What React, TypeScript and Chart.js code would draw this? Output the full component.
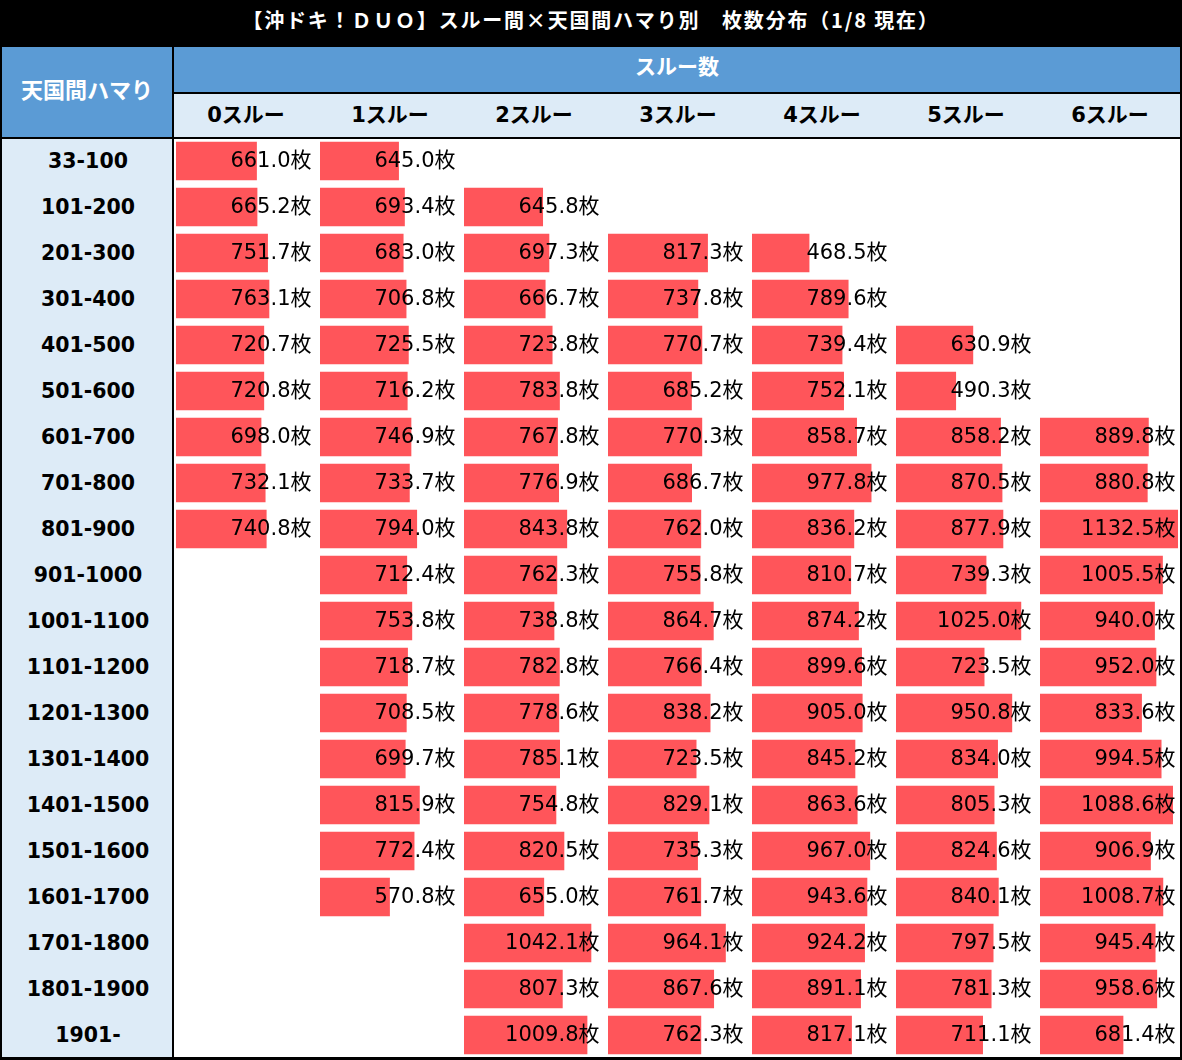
import React, { useEffect, useRef } from "react";
import { Chart, registerables } from "chart.js";

Chart.register(...registerables);

const title = "【沖ドキ！ＤＵＯ】スルー間×天国間ハマり別　枚数分布（1/8 現在）";
const rowHeader = "天国間ハマり";
const groupHeader = "スルー数";
const columnLabels = ["0スルー", "1スルー", "2スルー", "3スルー", "4スルー", "5スルー", "6スルー"];
const rowLabels = [
  "33-100", "101-200", "201-300", "301-400", "401-500", "501-600", "601-700",
  "701-800", "801-900", "901-1000", "1001-1100", "1101-1200", "1201-1300",
  "1301-1400", "1401-1500", "1501-1600", "1601-1700", "1701-1800", "1801-1900", "1901-",
];

const _ = null;
const thru0 = [661.0, 665.2, 751.7, 763.1, 720.7, 720.8, 698.0, 732.1, 740.8, _, _, _, _, _, _, _, _, _, _, _];
const thru1 = [645.0, 693.4, 683.0, 706.8, 725.5, 716.2, 746.9, 733.7, 794.0, 712.4, 753.8, 718.7, 708.5, 699.7, 815.9, 772.4, 570.8, _, _, _];
const thru2 = [_, 645.8, 697.3, 666.7, 723.8, 783.8, 767.8, 776.9, 843.8, 762.3, 738.8, 782.8, 778.6, 785.1, 754.8, 820.5, 655.0, 1042.1, 807.3, 1009.8];
const thru3 = [_, _, 817.3, 737.8, 770.7, 685.2, 770.3, 686.7, 762.0, 755.8, 864.7, 766.4, 838.2, 723.5, 829.1, 735.3, 761.7, 964.1, 867.6, 762.3];
const thru4 = [_, _, 468.5, 789.6, 739.4, 752.1, 858.7, 977.8, 836.2, 810.7, 874.2, 899.6, 905.0, 845.2, 863.6, 967.0, 943.6, 924.2, 891.1, 817.1];
const thru5 = [_, _, _, _, 630.9, 490.3, 858.2, 870.5, 877.9, 739.3, 1025.0, 723.5, 950.8, 834.0, 805.3, 824.6, 840.1, 797.5, 781.3, 711.1];
const thru6 = [_, _, _, _, _, _, 889.8, 880.8, 1132.5, 1005.5, 940.0, 952.0, 833.6, 994.5, 1088.6, 906.9, 1008.7, 945.4, 958.6, 681.4];

const columns: (number | null)[][] = [thru0, thru1, thru2, thru3, thru4, thru5, thru6];

// one scale for every data bar, like an excel data bar rule over the whole range
const maxValue = Math.max(...columns.flat().filter((v): v is number => v !== null));

const BLUE = "#5b9bd5";
const LIGHT = "#ddebf7";
const RED = "#ff555a";
const COL_W = 144;
const ROW_H = 46;
const LATIN_JP = "'DejaVu Sans', 'Noto Sans CJK JP', sans-serif";
const JP = "'Noto Sans CJK JP', sans-serif";

const ColumnChart: React.FC<{ values: (number | null)[] }> = ({ values }) => {
  const chartRef = useRef<HTMLCanvasElement | null>(null);

  useEffect(() => {
    if (!chartRef.current) return;

    const valueLabels = {
      id: "valueLabels",
      afterDatasetsDraw(chart: Chart) {
        const { ctx } = chart;
        const meta = chart.getDatasetMeta(0);
        ctx.save();
        ctx.font = `21px ${LATIN_JP}`;
        ctx.fillStyle = "#000";
        ctx.textAlign = "right";
        ctx.textBaseline = "middle";
        meta.data.forEach((bar, i) => {
          const v = values[i];
          if (v === null || v === undefined) return;
          ctx.fillText(v.toFixed(1) + "枚", chart.width - 6.5, bar.y + 1);
        });
        ctx.restore();
      },
    };

    const chart = new Chart(chartRef.current, {
      type: "bar",
      data: {
        labels: rowLabels,
        datasets: [
          {
            data: values,
            backgroundColor: RED,
            borderWidth: 0,
            barThickness: 38,
          },
        ],
      },
      options: {
        indexAxis: "y",
        responsive: true,
        maintainAspectRatio: false,
        animation: false,
        layout: { padding: { left: 2, right: 4, top: 0, bottom: 0 } },
        plugins: {
          legend: { display: false },
          tooltip: { enabled: false },
        },
        scales: {
          x: { type: "linear", min: 0, max: maxValue, display: false },
          y: { type: "category", display: false, offset: true },
        },
      },
      plugins: [valueLabels],
    });

    return () => {
      chart.destroy();
    };
  }, [values]);

  return <canvas ref={chartRef} />;
};

const centered: React.CSSProperties = {
  display: "flex",
  alignItems: "center",
  justifyContent: "center",
};

const App: React.FC = () => {
  return (
    <div
      style={{
        position: "absolute",
        left: 0,
        top: 0,
        width: 1182,
        height: 1060,
        background: "#000",
        fontFamily: LATIN_JP,
      }}
    >
      {/* title */}
      <div
        style={{
          position: "absolute",
          left: 0,
          top: 0,
          width: 1182,
          height: 40,
          lineHeight: "40px",
          textAlign: "center",
          color: "#fff",
          fontWeight: "bold",
          fontSize: 20,
          letterSpacing: "1.8px",
          fontFamily: JP,
          whiteSpace: "pre",
        }}
      >
        {title}
      </div>

      {/* left header */}
      <div
        style={{
          ...centered,
          position: "absolute",
          left: 2,
          top: 47,
          width: 170,
          height: 90,
          paddingBottom: 8,
          boxSizing: "border-box",
          background: BLUE,
          color: "#fff",
          fontWeight: "bold",
          fontSize: 22,
          fontFamily: JP,
        }}
      >
        {rowHeader}
      </div>

      {/* group header */}
      <div
        style={{
          ...centered,
          position: "absolute",
          left: 174,
          top: 47,
          width: 1006,
          height: 45,
          paddingBottom: 10,
          boxSizing: "border-box",
          background: BLUE,
          color: "#fff",
          fontWeight: "bold",
          fontSize: 21,
          fontFamily: JP,
        }}
      >
        {groupHeader}
      </div>

      {/* column header */}
      <div
        style={{
          position: "absolute",
          left: 174,
          top: 94,
          width: 1006,
          height: 43,
          background: LIGHT,
        }}
      >
        {columnLabels.map((c, i) => (
          <div
            key={c}
            style={{
              ...centered,
              position: "absolute",
              left: i * COL_W,
              top: 0,
              width: COL_W,
              height: 43,
              paddingBottom: 6,
              boxSizing: "border-box",
              fontWeight: "bold",
              fontSize: 21,
              color: "#000",
            }}
          >
            {c}
          </div>
        ))}
      </div>

      {/* row labels */}
      <div
        style={{
          position: "absolute",
          left: 2,
          top: 139,
          width: 170,
          height: 918,
          background: LIGHT,
        }}
      >
        {rowLabels.map((r, i) => (
          <div
            key={r}
            style={{
              ...centered,
              position: "absolute",
              left: 0,
              top: i * ROW_H - 1,
              width: 172,
              height: ROW_H,
              fontWeight: "bold",
              fontSize: 20.5,
              color: "#000",
            }}
          >
            {r}
          </div>
        ))}
      </div>

      {/* data area */}
      <div
        style={{
          position: "absolute",
          left: 174,
          top: 139,
          width: 1006,
          height: 918,
          background: "#fff",
        }}
      />
      {columns.map((vals, i) => (
        <div
          key={i}
          style={{
            position: "absolute",
            left: 174 + i * COL_W,
            top: 138,
            width: COL_W,
            height: ROW_H * rowLabels.length,
          }}
        >
          <ColumnChart values={vals} />
        </div>
      ))}
    </div>
  );
};

export default App;
